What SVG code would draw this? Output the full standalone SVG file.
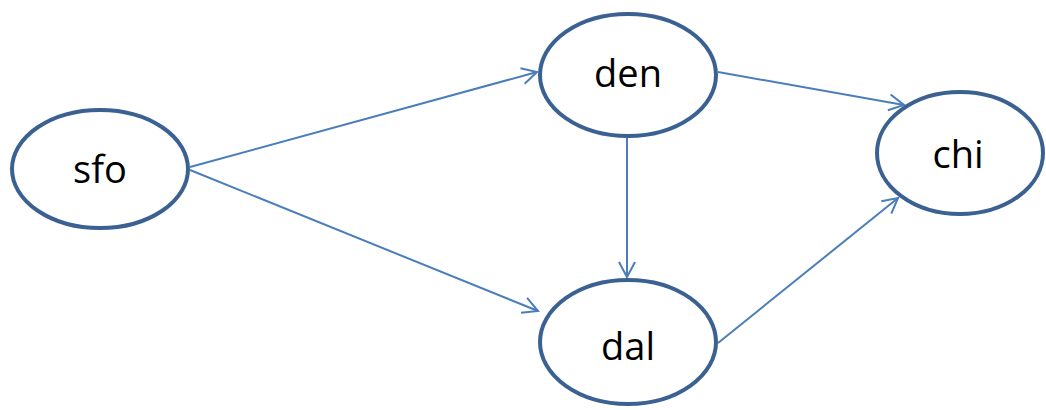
<svg xmlns="http://www.w3.org/2000/svg" width="1046" height="410" viewBox="0 0 1046 410">
  <style>
    .node ellipse { fill: #ffffff; stroke: #3b6193; stroke-width: 4; }
    .node text { font-family: "Open Sans", "Liberation Sans", sans-serif; font-size: 38px; fill: #000000; text-anchor: middle; }
    .edge { stroke: #4a7ebb; stroke-width: 2; fill: none; marker-end: url(#arrow); }
  </style>
  <defs>
    <!-- open chevron arrowhead, tip placed at the line end -->
    <marker id="arrow" viewBox="-20 -10 24 20" refX="0" refY="0" markerWidth="24" markerHeight="20" markerUnits="userSpaceOnUse" orient="auto" overflow="visible">
      <path d="M-15,-8 L0,0 L-15,8" fill="none" stroke="#4a7ebb" stroke-width="2"/>
    </marker>
  </defs>
  <g id="connectors">
    <line class="edge" x1="190" y1="167" x2="537" y2="72"/>
    <line class="edge" x1="190" y1="170" x2="538" y2="311"/>
    <line class="edge" x1="627" y1="138" x2="627" y2="277"/>
    <line class="edge" x1="718" y1="72" x2="904" y2="105"/>
    <line class="edge" x1="718" y1="343" x2="898" y2="198"/>
  </g>
  <g id="sfo" class="node">
    <ellipse cx="100" cy="169" rx="88" ry="59"/>
    <text x="100" y="183">sfo</text>
  </g>
  <g id="den" class="node">
    <ellipse cx="628" cy="75" rx="88" ry="61"/>
    <text x="628" y="87">den</text>
  </g>
  <g id="dal" class="node">
    <ellipse cx="628" cy="342" rx="88" ry="62"/>
    <text x="628" y="360">dal</text>
  </g>
  <g id="chi" class="node">
    <ellipse cx="960" cy="153" rx="83" ry="61"/>
    <text x="958" y="168">chi</text>
  </g>
</svg>
